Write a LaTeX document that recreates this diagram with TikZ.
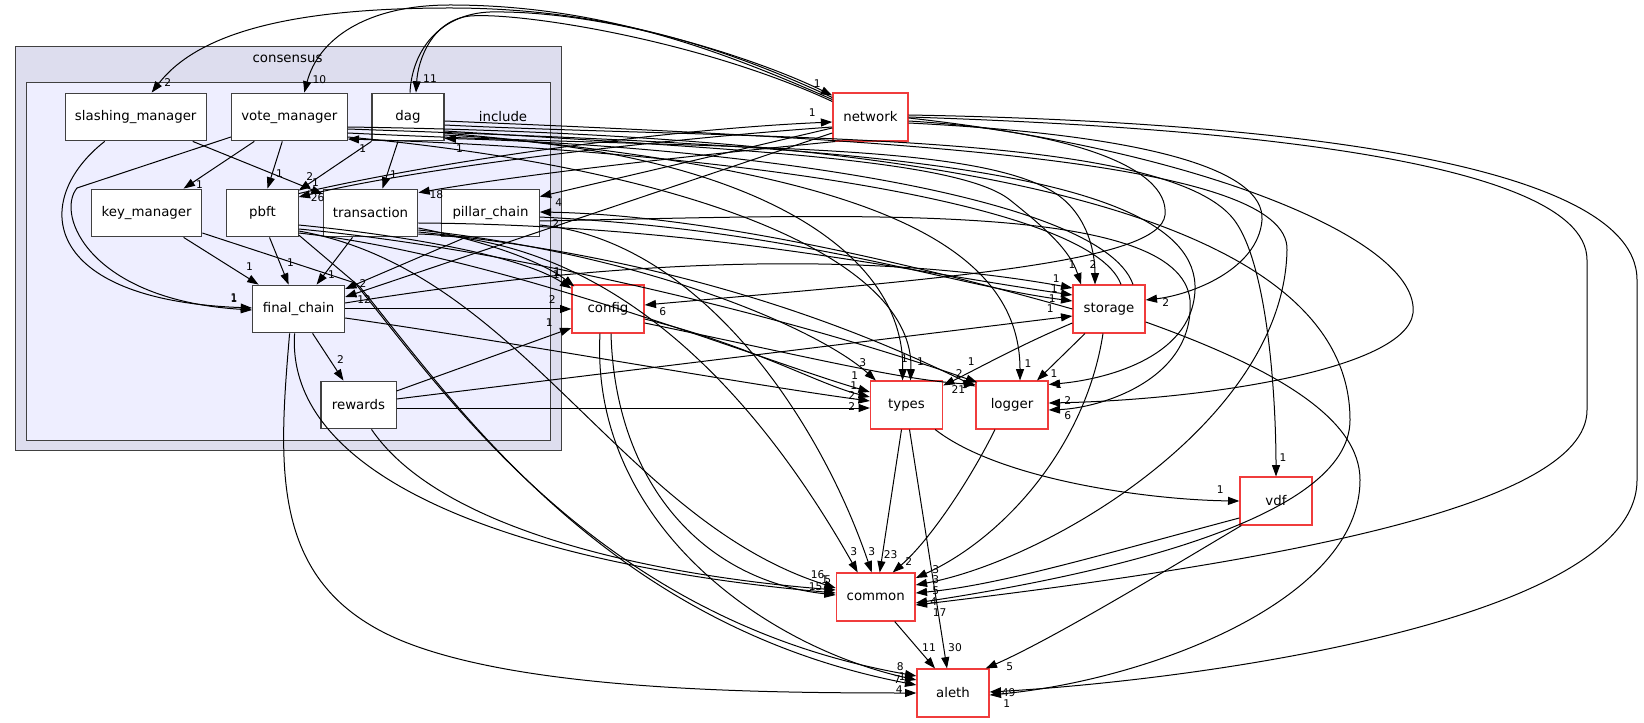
\documentclass[tikz,border=0pt]{standalone}
\usepackage{fontspec}
\setmainfont{DejaVu Sans}
\usepackage{tikz}
\usetikzlibrary{arrows.meta, calc}
\definecolor{consfill}{HTML}{DDDDEE}
\definecolor{inclfill}{HTML}{EEEEFF}
\definecolor{extred}{HTML}{F03C3C}
\tikzset{>={Triangle[length=8.5pt,width=6pt]}}
\tikzset{
    dirnode/.style={draw=black!75, fill=white, line width=0.8pt, minimum height=35.8pt, inner sep=0pt, font=\fontsize{10}{12}\selectfont},
    extnode/.style={dirnode, draw=extred, line width=1pt},
    lbl/.style={font=\fontsize{8}{9}\selectfont, inner sep=0pt},
    dep/.style={->, line width=0.75pt},
}

\begin{document}
\begin{tikzpicture}[x=0.75pt, y=-0.75pt]
    \useasboundingbox (0,0) rectangle (1644,723);
    \fill[white] (0,0) rectangle (1644,723);

    \draw[draw=black!75, fill=consfill, line width=0.75pt] (15.7,46.7) rectangle (561,450.7);
    \draw[draw=black!75, fill=inclfill, line width=0.75pt] (26.8,82.7) rectangle (550.7,440);
    \node[font=\fontsize{10}{12}\selectfont] (conslabel) at (287.5,58.7) {consensus};
    \node[font=\fontsize{10}{12}\selectfont] (incllabel) at (503,116.5) {include};

    \node[dirnode, minimum width=106pt] (slashing) at (135.7,117) {slashing\_manager};
    \node[dirnode, minimum width=86.8pt] (votemgr) at (289.3,117) {vote\_manager};
    \node[dirnode, minimum width=54pt] (dag) at (408,117) {dag};
    \node[dirnode, minimum width=82.8pt] (keymgr) at (146.6,213) {key\_manager};
    \node[dirnode, minimum width=53.5pt] (pbft) at (262.5,213) {pbft};
    \node[dirnode, minimum width=71pt] (transaction) at (370.5,213) {transaction};
    \node[dirnode, minimum width=73.1pt] (pillar) at (490.5,213) {pillar\_chain};
    \node[dirnode, minimum width=69pt] (finalchain) at (298.6,309) {final\_chain};
    \node[dirnode, minimum width=56.3pt] (rewards) at (358.5,405) {rewards};

    \node[extnode, minimum width=56.3pt] (network) at (870.4,117) {network};
    \node[extnode, minimum width=54pt] (config) at (608,309) {config};
    \node[extnode, minimum width=54pt] (storage) at (1109,309) {storage};
    \node[extnode, minimum width=54pt] (types) at (906.5,405) {types};
    \node[extnode, minimum width=54pt] (logger) at (1012,405) {logger};
    \node[extnode, minimum width=54pt] (vdf) at (1276,501) {vdf};
    \node[extnode, minimum width=59pt] (common) at (875.7,597) {common};
    \node[extnode, minimum width=54pt] (aleth) at (953,693) {aleth};

    \draw[dep] ($(slashing.south)+(-31,0)$) .. controls (30,200) and (40,300) .. ($(finalchain.west)+(0,-1)$) node[lbl,pos=1,shift={(-18,-10)}]{1};
    \draw[dep] ($(votemgr.west)+(0,20)$) -- (77,188) .. controls (55,215) and (90,300) .. ($(finalchain.west)+(0,1)$) node[lbl,pos=1,shift={(-18,-11)}]{1};
    \draw[dep] ($(votemgr.south)+(-35,0)$) -- ($(keymgr.north)+(37,0)$) node[lbl,pos=1,shift={(16,-4)}]{1};
    \draw[dep] ($(votemgr.south)+(-7,0)$) -- ($(pbft.north)+(5,0)$) node[lbl,pos=1,shift={(12,-15)}]{1};
    \draw[dep] ($(slashing.south)+(57,0)$) -- ($(transaction.west)+(0,-19)$) node[lbl,pos=1,shift={(-7,-11)}]{1};
    \draw[dep] (dag.south west) -- ($(pbft.north east)+(0,2)$) node[lbl,pos=1,shift={(11,-14)}]{2};
    \draw[dep] ($(dag.south)+(-10,0)$) -- ($(transaction.north)+(12,0)$) node[lbl,pos=1,shift={(11,-14)}]{1};
    \draw[dep] ($(keymgr.south)+(37,0)$) -- ($(finalchain.north)+(-40,0)$) node[lbl,pos=1,shift={(-9,-18)}]{1};
    \draw[dep] ($(pbft.south)+(7,0)$) -- ($(finalchain.north)+(-10,0)$) node[lbl,pos=1,shift={(2,-22)}]{1};
    \draw[dep] ($(transaction.south)+(-18,0)$) -- ($(finalchain.north)+(18,0)$) node[lbl,pos=1,shift={(15,-10)}]{1};
    \draw[dep] ($(pillar.south)+(-25,0)$) -- ($(finalchain.east)+(0,-20)$) node[lbl,pos=1,shift={(18,-5)}]{2};
    \draw[dep] ($(finalchain.south)+(14,0)$) -- ($(rewards.north)+(-15,0)$) node[lbl,pos=1,shift={(-3,-21)}]{2};

    \draw[dep] ($(network.north west)+(0,5)$) .. controls (720,45) and (600,8) .. (450,8) .. controls (300,8) and (200,30) .. ($(slashing.north)+(16,0)$) node[lbl,pos=1,shift={(16,-10)}]{2};
    \draw[dep] ($(network.north west)+(0,7)$) .. controls (720,50) and (600,5) .. (450,5) .. controls (365,5) and (318,40) .. ($(votemgr.north)+(15,0)$) node[lbl,pos=1,shift={(15,-13)}]{10};
    \draw[dep] ($(network.north west)+(0,9)$) .. controls (700,40) and (520,12) .. (470,16) .. controls (432,20) and (418,60) .. ($(dag.north)+(8,0)$) node[lbl,pos=1,shift={(14,-14)}]{11};
    \draw[dep] ($(dag.north)+(2,0)$) .. controls (412,50) and (440,14) .. (490,12) .. controls (610,10) and (760,60) .. ($(network.north west)+(0,3)$) node[lbl,pos=1,shift={(-15,-12)}]{1};
    \draw[dep] ($(pbft.north east)+(0,5)$) .. controls (420,165) and (650,130) .. ($(network.west)+(0,5)$) node[lbl,pos=1,shift={(-20,-9)}]{1};
    \draw[dep] ($(network.west)+(0,10)$) .. controls (650,140) and (420,168) .. ($(pbft.east)+(0,-16)$) node[lbl,pos=1,shift={(19,1)}]{26};
    \draw[dep] ($(network.south west)+(3,0)$) .. controls (750,150) and (550,170) .. ($(transaction.north east)+(0,4)$) node[lbl,pos=1,shift={(18,2)}]{18};
    \draw[dep] ($(network.west)+(0,11)$) -- ($(pillar.north east)+(0,8)$) node[lbl,pos=1,shift={(19,6)}]{4};
    \draw[dep] ($(network.west)+(0,16)$) -- ($(finalchain.east)+(0,-12)$) node[lbl,pos=1,shift={(19,3)}]{12};
    \draw[dep] ($(network.east)+(0,4)$) .. controls (1060,130) and (1170,165) .. (1165,215) .. controls (1160,262) and (950,278) .. ($(config.east)+(0,-4)$) node[lbl,pos=1,shift={(18,7)}]{6};
    \draw[dep] ($(network.east)+(0,6)$) .. controls (1150,135) and (1265,170) .. (1262,220) .. controls (1258,270) and (1190,295) .. ($(storage.east)+(0,-9)$) node[lbl,pos=1,shift={(20,3)}]{2};
    \draw[dep] ($(network.east)+(0,1)$) .. controls (1200,150) and (1420,240) .. (1413,313) .. controls (1406,370) and (1200,400) .. ($(logger.east)+(0,-2)$) node[lbl,pos=1,shift={(19,-2)}]{2};
    \draw[dep] (network.east) .. controls (1150,125) and (1587,150) .. (1587,260) -- (1587,410) .. controls (1587,510) and (1250,565) .. ($(common.east)+(0,8)$) node[lbl,pos=1,shift={(24,8)}]{17};
    \draw[dep] ($(network.east)+(0,-2)$) .. controls (1200,120) and (1637,150) .. (1637,280) -- (1637,480) .. controls (1637,620) and (1200,680) .. ($(aleth.east)+(0,-1)$) node[lbl,pos=1,shift={(19,1)}]{49};

    \draw[dep] ($(dag.east)+(0,8)$) .. controls (750,140) and (1150,130) .. (1230,215) .. controls (1268,255) and (1276,400) .. (vdf.north) node[lbl,pos=1,shift={(7,-19)}]{1};
    \draw[dep] ($(dag.east)+(0,14)$) .. controls (750,150) and (960,160) .. (1010,200) .. controls (1045,228) and (1070,250) .. ($(storage.north)+(-28,0)$) node[lbl,pos=1,shift={(-9,-20)}]{1};
    \draw[dep] ($(votemgr.east)+(0,16)$) .. controls (700,150) and (960,140) .. (1050,190) .. controls (1086,210) and (1095,250) .. ($(storage.north)+(-14,0)$) node[lbl,pos=1,shift={(-2,-20)}]{2};
    \draw[dep] ($(dag.east)+(0,18)$) .. controls (750,150) and (905,250) .. ($(types.north)+(-4,0)$) node[lbl,pos=1,shift={(2,-22)}]{1};
    \draw[dep] ($(votemgr.east)+(0,20)$) .. controls (700,170) and (915,260) .. ($(types.north)+(4,0)$) node[lbl,pos=1,shift={(10,-19)}]{1};
    \draw[dep] ($(dag.east)+(0,16)$) .. controls (800,165) and (1020,220) .. ($(logger.north)+(8,0)$) node[lbl,pos=1,shift={(8,-17)}]{1};
    \draw[dep] ($(votemgr.east)+(0,12)$) .. controls (800,145) and (1200,160) .. (1195,290) .. controls (1192,360) and (1100,380) .. ($(logger.north east)+(0,4)$) node[lbl,pos=1,shift={(10,0)}]{1};
    \draw[dep] ($(dag.east)+(0,4)$) .. controls (900,140) and (1290,160) .. (1287,250) .. controls (1284,420) and (1050,560) .. ($(common.east)+(0,-12)$) node[lbl,pos=1,shift={(20,-5)}]{3};
    \draw[dep] ($(votemgr.east)+(0,10)$) .. controls (900,135) and (1350,200) .. (1350,420) .. controls (1350,520) and (1100,575) .. ($(common.east)+(0,6)$) node[lbl,pos=1,shift={(18,-1)}]{4};

    \draw[dep] ($(storage.south)+(-6,0)$) .. controls (1085,450) and (1000,540) .. ($(common.east)+(0,-19)$) node[lbl,pos=1,shift={(20,-8)}]{3};
    \draw[dep] ($(storage.east)+(0,13)$) .. controls (1280,370) and (1360,420) .. (1360,480) .. controls (1360,600) and (1150,680) .. ($(aleth.east)+(0,2)$) node[lbl,pos=1,shift={(17,9)}]{1};
    \draw[dep] ($(storage.west)+(0,14)$) .. controls (1020,345) and (975,370) .. ($(types.north east)+(0,5)$) node[lbl,pos=1,shift={(28,-24)}]{1};
    \draw[dep] ($(storage.south)+(-24,0)$) -- ($(logger.north)+(25,0)$) node[lbl,pos=1,shift={(17,-7)}]{1};
    \draw[dep] ($(storage.north)+(12,0)$) .. controls (1090,200) and (700,150) .. ($(votemgr.east)+(0,22)$) node[lbl,pos=1,shift={(15,10)}]{1};
    \draw[dep] ($(storage.north)+(24,0)$) .. controls (1100,190) and (700,145) .. ($(dag.south east)+(0,-3)$) node[lbl,pos=1,shift={(15,10)}]{1};
    \draw[dep] (storage.west) .. controls (900,260) and (700,215) .. ($(pillar.east)+(0,-1)$) node[lbl,pos=1,shift={(16,12)}]{2};

    \draw[dep] ($(transaction.east)+(0,10)$) .. controls (700,225) and (900,270) .. ($(storage.west)+(0,-14)$) node[lbl,pos=1,shift={(-18,-6)}]{1};
    \draw[dep] ($(pillar.east)+(0,4)$) .. controls (800,230) and (950,285) .. ($(storage.west)+(0,-8)$) node[lbl,pos=1,shift={(-20,-2)}]{1};
    \draw[dep] ($(finalchain.east)+(0,-6)$) .. controls (600,262) and (850,248) .. ($(storage.west)+(0,-21)$) node[lbl,pos=1,shift={(-16,-9)}]{1};
    \draw[dep] ($(rewards.east)+(0,-6)$) -- ($(storage.west)+(0,7)$) node[lbl,pos=1,shift={(-22,-7)}]{1};

    \draw[dep] ($(pbft.east)+(0,12)$) .. controls (400,235) and (520,255) .. ($(config.north west)+(0,4)$) node[lbl,pos=1,shift={(-15,-14)}]{1};
    \draw[dep] ($(transaction.east)+(0,15)$) .. controls (480,240) and (540,260) .. ($(config.north west)+(3,2)$) node[lbl,pos=1,shift={(-17,-15)}]{1};
    \draw[dep] (finalchain.east) -- (config.west) node[lbl,pos=1,shift={(-19,-9)}]{2};
    \draw[dep] ($(rewards.east)+(0,-14)$) -- ($(config.west)+(0,19)$) node[lbl,pos=1,shift={(-22,-5)}]{1};
    \draw[dep] ($(rewards.east)+(0,3)$) -- ($(types.west)+(0,3)$) node[lbl,pos=1,shift={(-18,-1)}]{2};
    \draw[dep] ($(rewards.south)+(13,0)$) .. controls (440,530) and (650,575) .. ($(common.west)+(0,-7)$) node[lbl,pos=1,shift={(-8,-10)}]{5};
    \draw[dep] ($(finalchain.east)+(0,9)$) .. controls (500,340) and (750,385) .. ($(types.west)+(0,-4)$) node[lbl,pos=1,shift={(-18,-5)}]{2};
    \draw[dep] ($(finalchain.south)+(-4,0)$) .. controls (285,480) and (520,565) .. ($(common.west)+(0,-4)$) node[lbl,pos=1,shift={(-20,-6)}]{15};
    \draw[dep] ($(finalchain.south)+(-9,0)$) .. controls (278,470) and (270,585) .. (400,640) .. controls (520,690) and (750,693) .. (aleth.west) node[lbl,pos=1,shift={(-17,-3)}]{4};
    \draw[dep] ($(keymgr.east)+(0,20)$) -- (355,283) .. controls (450,400) and (600,620) .. ($(aleth.west)+(0,-17)$) node[lbl,pos=1,shift={(-16,-9)}]{8};
    \draw[dep] ($(pbft.east)+(0,22)$) -- (360,287) .. controls (455,403) and (605,625) .. ($(aleth.west)+(0,-8)$) node[lbl,pos=1,shift={(-19,-5)}]{7};
    \draw[dep] ($(pbft.east)+(0,18)$) .. controls (520,270) and (620,520) .. ($(common.west)+(0,-9)$) node[lbl,pos=1,shift={(-18,-13)}]{16};

    \draw[dep] ($(config.south)+(3,0)$) .. controls (615,480) and (700,580) .. ($(common.west)+(0,-2)$) node[lbl,pos=1,shift={(-11,-15)}]{1};
    \draw[dep] ($(config.south)+(-8,0)$) .. controls (590,520) and (760,645) .. ($(aleth.west)+(0,-13)$) node[lbl,pos=1,shift={(-14,-3)}]{1};
    \draw[dep] ($(config.east)+(0,10)$) .. controls (750,345) and (820,385) .. ($(types.west)+(0,-8)$) node[lbl,pos=1,shift={(-16,-11)}]{1};
    \draw[dep] ($(config.east)+(0,14)$) .. controls (800,355) and (900,380) .. ($(logger.north west)+(0,4)$) node[lbl,pos=1,shift={(-16,-11)}]{2};
    \draw[dep] ($(pbft.east)+(0,20)$) .. controls (500,255) and (760,360) .. ($(types.west)+(0,-13)$) node[lbl,pos=1,shift={(-15,-16)}]{1};
    \draw[dep] ($(pbft.east)+(0,16)$) .. controls (520,250) and (800,320) .. ($(logger.north west)+(2,2)$) node[lbl,pos=1,shift={(-12,2)}]{5};
    \draw[dep] ($(transaction.east)+(0,17)$) .. controls (650,255) and (820,330) .. ($(types.north west)+(6,0)$) node[lbl,pos=1,shift={(-13,-18)}]{3};
    \draw[dep] ($(transaction.east)+(0,19)$) .. controls (700,260) and (880,340) .. ($(logger.north west)+(0,6)$) node[lbl,pos=1,shift={(-17,3)}]{21};
    \draw[dep] ($(pillar.east)+(0,8)$) .. controls (850,215) and (1180,200) .. (1190,300) .. controls (1195,380) and (1100,408) .. ($(logger.east)+(0,5)$) node[lbl,pos=1,shift={(19,6)}]{6};
    \draw[dep] ($(pillar.east)+(0,12)$) .. controls (700,240) and (820,420) .. ($(common.north)+(-4,0)$) node[lbl,pos=1,shift={(0,-21)}]{3};
    \draw[dep] ($(transaction.east)+(0,21)$) .. controls (620,240) and (760,400) .. ($(common.north)+(-18,0)$) node[lbl,pos=1,shift={(-4,-21)}]{3};

    \draw[dep] ($(types.south)+(-5,0)$) -- ($(common.north)+(4,0)$) node[lbl,pos=1,shift={(11,-18)}]{23};
    \draw[dep] ($(logger.south)+(-17,0)$) .. controls (970,480) and (930,540) .. ($(common.north)+(17,0)$) node[lbl,pos=1,shift={(16,-11)}]{2};
    \draw[dep] ($(types.south)+(3,0)$) -- ($(aleth.north)+(-6,0)$) node[lbl,pos=1,shift={(8,-21)}]{30};
    \draw[dep] ($(common.south)+(19,0)$) -- ($(aleth.north)+(-18,0)$) node[lbl,pos=1,shift={(-6,-21)}]{11};
    \draw[dep] ($(types.south east)+(-8,0)$) .. controls (1000,480) and (1150,500) .. (vdf.west) node[lbl,pos=1,shift={(-19,-11)}]{1};
    \draw[dep] ($(vdf.west)+(0,17)$) .. controls (1100,555) and (1000,585) .. ($(common.east)+(0,-4)$) node[lbl,pos=1,shift={(20,-2)}]{5};
    \draw[dep] ($(vdf.south west)+(2,0)$) .. controls (1150,580) and (1050,640) .. ($(aleth.north east)+(-4,0)$) node[lbl,pos=1,shift={(24,-2)}]{5};
\end{tikzpicture}
\end{document}
